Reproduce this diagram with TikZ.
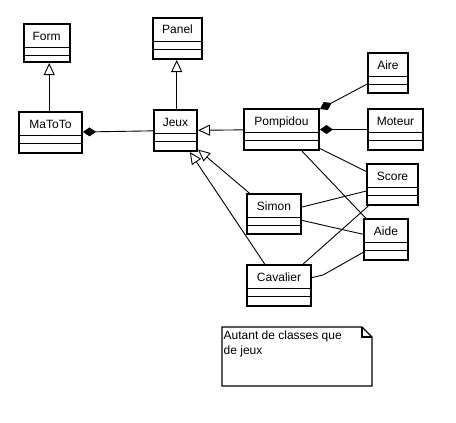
\documentclass[tikz,border=0pt]{standalone}
\usepackage{fontspec}
\setmainfont{Liberation Sans}
\usetikzlibrary{arrows.meta}
\begin{document}
\begin{tikzpicture}[x=1pt,y=-1pt,
  font=\fontsize{12}{14}\selectfont,
  cls/.style n args={2}{draw, line width=2pt, inner sep=0pt,
    minimum width=#1pt, text height=16pt, text depth=#2pt,
    path picture={
      \draw[line width=1pt] ([yshift=-23.3pt]path picture bounding box.north west) -- ([yshift=-23.3pt]path picture bounding box.north east);
      \draw[line width=1pt] ([yshift=-31.5pt]path picture bounding box.north west) -- ([yshift=-31.5pt]path picture bounding box.north east);
    }},
  conn/.style={line width=0.9pt},
  gen/.style={conn, -{Triangle[open, length=12pt, width=11pt, line width=0.9pt]}},
  comp/.style={conn, {Diamond[length=13pt, width=9pt]}-},
  notestyle/.style={line width=1.2pt}
]
\useasboundingbox[fill=white] (0,0) rectangle (456,423);

\node[cls={46}{22}] (form) at (46.5,43) {Form};
\node[cls={49}{25}] (panel) at (177.5,38.5) {Panel};
\node[cls={63}{25}] (mat) at (50.5,132.5) {MaToTo};
\node[cls={43}{25}] (jeux) at (175.5,130.5) {Jeux};
\node[cls={40}{24}] (aire) at (388,73) {Aire};
\node[cls={75}{25}] (pomp) at (281.5,129.5) {Pompidou};
\node[cls={55}{25}] (mot) at (395.5,129.5) {Moteur};
\node[cls={51}{25}] (score) at (392.5,184.5) {Score};
\node[cls={54}{24}] (simon) at (274,214) {Simon};
\node[cls={44}{25}] (aide) at (386,239.5) {Aide};
\node[cls={64}{25}] (cav) at (279,285.5) {Cavalier};

% generalizations
\draw[gen] ([xshift=-1.3pt]mat.north) -- ([xshift=-1.3pt]mat.north |- form.south);
\draw[gen] ([xshift=1.2pt]jeux.north) -- ([xshift=1.2pt]jeux.north |- panel.south);
\draw[gen] (pomp) -- (jeux);
\draw[gen] (simon) -- (jeux);
\draw[gen] (cav) -- (jeux);

% compositions
\draw[comp] (mat) -- (jeux);
\draw[comp] (pomp) -- (aire);
\draw[comp] (pomp) -- (mot);

% associations
\draw[conn] (pomp) -- (score);
\draw[conn] (pomp) -- (aide);
\draw[conn] (simon) -- (score);
\draw[conn] (simon) -- (aide);
\draw[conn] (cav) -- (score);
\coordinate (cbend) at (323,275);
\draw[conn] (cav) -- (cbend) -- (aide);

% note
\draw[notestyle] (222,327) -- (362,327) -- (372,337) -- (372,386) -- (222,386) -- cycle;
\draw[notestyle] (362,327) -- (362,337) -- (372,337);
\node[anchor=north west, inner sep=0pt, align=left, font=\fontsize{12}{15}\selectfont] (notetxt) at (223.5,331) {Autant de classes que\\de jeux};
\end{tikzpicture}
\end{document}
